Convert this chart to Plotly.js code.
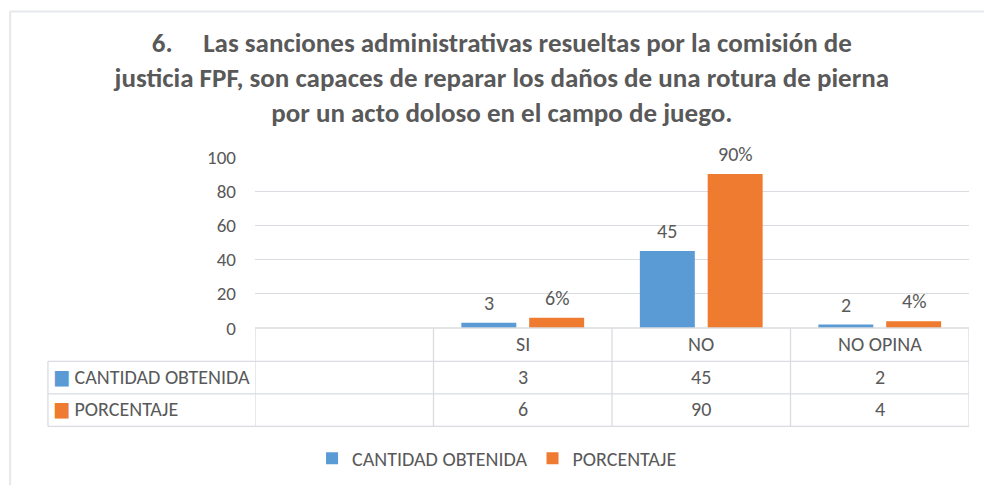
<!DOCTYPE html>
<html>
<head>
<meta charset="utf-8">
<script src="https://cdn.plot.ly/plotly-3.0.1.min.js"></script>
<style>html,body{margin:0;padding:0;background:#fff;}#chart{width:984px;height:490px;}</style>
</head>
<body>
<div id="chart"></div>
<script>
var categories = ["", "SI", "NO", "NO OPINA"];
var seriesNames = ["CANTIDAD OBTENIDA", "PORCENTAJE"];
var cantidad = [null, 3, 45, 2];
var porcentaje = [null, 6, 90, 4];
var yTicks = [0, 20, 40, 60, 80, 100];
var titleText = "6.     Las sanciones administrativas resueltas por la comisión de<br>justicia FPF, son capaces de reparar los daños de una rotura de pierna<br>por un acto doloso en el campo de juego.";

var FONT = "Carlito, 'Liberation Sans Narrow', 'DejaVu Sans Condensed', sans-serif";
var GRAY = "#595959";
var LINE = "#D9DCE1";
var BLUE = "#5B9BD5";
var ORANGE = "#EE7B30";

var xIdx = categories.map(function (c, i) { return i; });
var BARGAP = 0.24, GROUPGAP = 0.19;
var off = (1 - BARGAP) / 4;

var traces = [
  {type: "bar", name: seriesNames[0], x: xIdx, y: cantidad, marker: {color: BLUE}, hoverinfo: "none"},
  {type: "bar", name: seriesNames[1], x: xIdx, y: porcentaje, marker: {color: ORANGE}, hoverinfo: "none"}
];

var annotations = [];
var shapes = [];
// data labels
xIdx.forEach(function (i) {
  if (cantidad[i] !== null) {
    annotations.push({xref: "x", yref: "y", x: i - off, y: cantidad[i], text: String(cantidad[i]),
      showarrow: false, yanchor: "bottom", yshift: 6, font: {family: FONT, size: 20, color: GRAY}});
  }
  if (porcentaje[i] !== null) {
    annotations.push({xref: "x", yref: "y", x: i + off, y: porcentaje[i], text: porcentaje[i] + "%",
      showarrow: false, yanchor: "bottom", yshift: 6, font: {family: FONT, size: 20, color: GRAY}});
  }
});

// data table
var rowY = [-0.098, -0.29, -0.48];
var rowLines = [0, -0.195, -0.385, -0.575];
var leftEdge = -0.29;
var TSHIFT = -13;
xIdx.forEach(function (i) {
  annotations.push({xref: "x", yref: "paper", x: i, y: rowY[0], yshift: TSHIFT, text: categories[i], showarrow: false,
    font: {family: FONT, size: 20, color: GRAY}});
  if (cantidad[i] !== null) annotations.push({xref: "x", yref: "paper", x: i, y: rowY[1], yshift: TSHIFT, text: String(cantidad[i]),
    showarrow: false, font: {family: FONT, size: 20, color: GRAY}});
  if (porcentaje[i] !== null) annotations.push({xref: "x", yref: "paper", x: i, y: rowY[2], yshift: TSHIFT, text: String(porcentaje[i]),
    showarrow: false, font: {family: FONT, size: 20, color: GRAY}});
});
var keyColors = [BLUE, ORANGE];
seriesNames.forEach(function (n, k) {
  annotations.push({xref: "paper", yref: "paper", x: leftEdge + 0.004, y: rowY[k + 1], yshift: TSHIFT, xanchor: "left", showarrow: false,
    text: "<span style='color:" + keyColors[k] + "'>■</span> " + n, font: {family: FONT, size: 20, color: GRAY}});
});
// vertical table lines
for (var b = -0.5; b <= categories.length - 0.5; b += 1) {
  shapes.push({type: "line", xref: "x", yref: "paper", x0: b, x1: b, y0: rowLines[0], y1: rowLines[3],
    line: {color: LINE, width: 1.3}});
}
shapes.push({type: "line", xref: "paper", yref: "paper", x0: leftEdge, x1: leftEdge, y0: rowLines[1], y1: rowLines[3],
  line: {color: LINE, width: 1.3}});
for (var r = 1; r < rowLines.length; r++) {
  shapes.push({type: "line", xref: "paper", yref: "paper", x0: leftEdge, x1: 1, y0: rowLines[r], y1: rowLines[r],
    line: {color: LINE, width: 1.3}});
}
shapes.push({type: "line", xref: "paper", yref: "paper", x0: 0, x1: 1, y0: 0, y1: 0, line: {color: LINE, width: 1.3}});
// outer frame
shapes.push({type: "line", xref: "paper", yref: "paper", x0: -0.343, x1: 1.03, y0: 1.0 + 148 / 174, y1: 1.0 + 148 / 174,
  line: {color: "#E6E8EC", width: 2}});
shapes.push({type: "line", xref: "paper", yref: "paper", x0: -0.343, x1: -0.343, y0: 1.0 + 148 / 174, y1: -0.92,
  line: {color: "#E6E8EC", width: 2}});

var layout = {
  width: 984, height: 490,
  margin: {l: 255, r: 15, t: 157, b: 159},
  paper_bgcolor: "#fff", plot_bgcolor: "#fff",
  font: {family: FONT, color: GRAY},
  title: {text: titleText, font: {family: FONT, size: 27, color: GRAY, weight: "bold"},
    x: 0.51, xanchor: "center", y: 0.894, yanchor: "top"},
  barmode: "group", bargap: BARGAP, bargroupgap: GROUPGAP,
  xaxis: {range: [-0.5, categories.length - 0.5], showticklabels: false, showgrid: false, zeroline: false,
    showline: false, ticks: "", fixedrange: true},
  yaxis: {range: [0, 100], tickvals: yTicks, showgrid: true, gridcolor: LINE, gridwidth: 1.3,
    zeroline: false, showline: false, ticks: "", ticklabelstandoff: 18,
    tickfont: {family: FONT, size: 19, color: GRAY}, fixedrange: true},
  showlegend: true,
  legend: {orientation: "h", x: 0.339, xanchor: "center", y: -0.762, yanchor: "middle",
    font: {family: FONT, size: 20, color: GRAY}, itemwidth: 30, tracegroupgap: 0},
  annotations: annotations,
  shapes: shapes
};

Plotly.newPlot("chart", traces, layout, {staticPlot: true, displayModeBar: false});
</script>
</body>
</html>
